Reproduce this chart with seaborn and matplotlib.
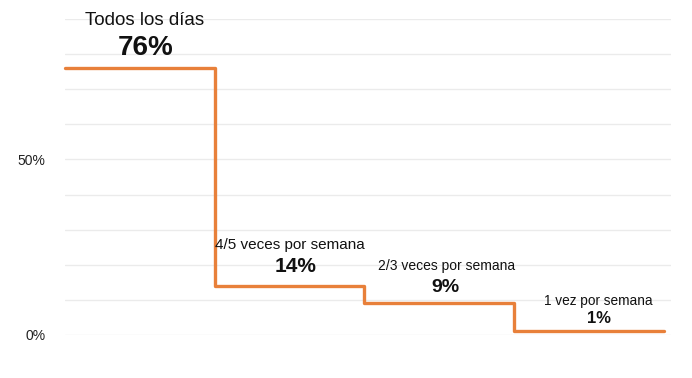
import matplotlib
matplotlib.use("Agg")
import matplotlib.pyplot as plt
import pandas as pd
import seaborn as sns

categories = ["Todos los días", "4/5 veces por semana", "2/3 veces por semana", "1 vez por semana"]
values = [76, 14, 9, 1]
percent_labels = ["76%", "14%", "9%", "1%"]
ytick_values = [0, 10, 20, 30, 40, 50, 60, 70, 80, 90]
ytick_labels = ["0%", "", "", "", "", "50%", "", "", "", ""]

# text styling per step (sizes shrink with the step)
cat_sizes = [13.5, 11, 10, 9.8]
pct_sizes = [20, 15, 14, 12]
cat_offsets = [(5, 43), (0, 37), (7, 33), (10, 26)]
pct_offsets = [(6, 13), (6, 14), (6, 11), (10, 8)]

sns.set_theme(style="white")
plt.rcParams["font.family"] = ["Liberation Sans", "DejaVu Sans"]

# step line: repeat the last value so the final step has width
df = pd.DataFrame({"pos": list(range(len(values) + 1)), "value": values + values[-1:]})

fig = plt.figure(figsize=(6.92, 3.78), dpi=100)
W, H = 692, 378
ax = fig.add_axes([65 / W, (H - 335) / H, (671 - 65) / W, (335 - 19) / H])

for y in ytick_values:
    ax.axhline(y, color="#ebebeb", lw=1, zorder=0)

sns.lineplot(data=df, x="pos", y="value", drawstyle="steps-post", color="#E8803A",
             lw=2.4, ax=ax, clip_on=False, zorder=3)

for i, (cat, pct) in enumerate(zip(categories, percent_labels)):
    ax.annotate(cat, xy=(i + 0.5, values[i]), xytext=cat_offsets[i],
                textcoords="offset pixels", ha="center", va="baseline",
                fontsize=cat_sizes[i], color="#111111")
    ax.annotate(pct, xy=(i + 0.5, values[i]), xytext=pct_offsets[i],
                textcoords="offset pixels", ha="center", va="baseline",
                fontsize=pct_sizes[i], fontweight="bold", color="#111111")

ax.set_xlim(0, 4.05)
ax.set_ylim(0, 90)
ax.set_yticks(ytick_values)
ax.set_yticklabels(ytick_labels, fontsize=10, color="#222222")
ax.set_xticks([])
ax.tick_params(axis="y", length=0, pad=14)
ax.set_xlabel("")
ax.set_ylabel("")
sns.despine(ax=ax, left=True, bottom=True)

fig.savefig("out.png", dpi=100)
